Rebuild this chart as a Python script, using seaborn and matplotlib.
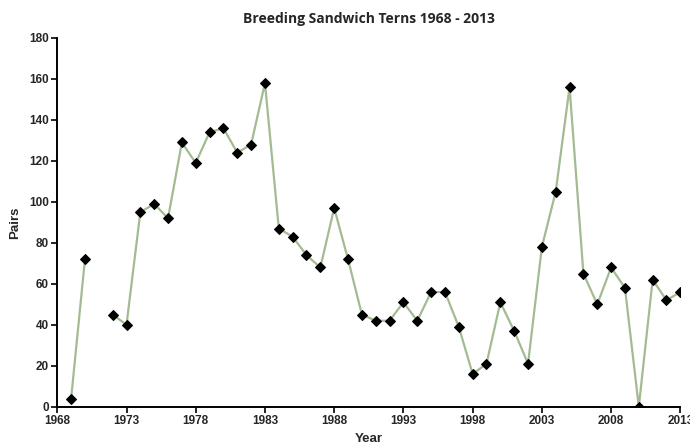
import numpy as np
import pandas as pd
import matplotlib
matplotlib.use("Agg")
import matplotlib.pyplot as plt
import seaborn as sns

years = list(range(1969, 2014))
pairs = [4, 72, np.nan, 45, 40, 95, 99, 92, 129, 119, 134, 136, 124, 128, 158,
         87, 83, 74, 68, 97, 72, 45, 42, 42, 51, 42, 56, 56, 39, 16, 21, 51,
         37, 21, 78, 105, 156, 65, 50, 68, 58, 0, 62, 52, 56]
x_ticks = list(range(1968, 2014, 5))
y_ticks = list(range(0, 181, 20))

df = pd.DataFrame({"Year": years, "Pairs": pairs})
# split the series where a year is missing so the line breaks there
df["segment"] = df["Pairs"].isna().cumsum()
df = df.dropna()

sns.set_style("white")
plt.rcParams["font.family"] = ["Liberation Sans Narrow", "Liberation Sans", "DejaVu Sans"]

fig, ax = plt.subplots(figsize=(6.9, 4.47), dpi=100)
fig.subplots_adjust(left=0.083, right=0.986, top=0.915, bottom=0.09)

sns.lineplot(data=df, x="Year", y="Pairs", units="segment", estimator=None,
             color="#a3bb93", linewidth=1.6, marker="D", markersize=5.5,
             markerfacecolor="black", markeredgecolor="black", ax=ax)

ax.set_xlim(1968, 2013)
ax.set_ylim(0, 180)
ax.set_xticks(x_ticks)
ax.set_yticks(y_ticks)
ax.tick_params(axis="both", direction="out", length=4, width=1.2, color="black",
               labelsize=8.5, pad=2, bottom=True, left=True)
for lab in ax.get_xticklabels() + ax.get_yticklabels():
    lab.set_fontweight("bold")
for side in ["top", "right"]:
    ax.spines[side].set_visible(False)
for side in ["left", "bottom"]:
    ax.spines[side].set_color("black")
    ax.spines[side].set_linewidth(1.4)

ax.set_xlabel("Year", fontsize=9.5, fontweight="bold", labelpad=4)
ax.set_ylabel("Pairs", fontsize=9.5, fontweight="bold", labelpad=6)
ax.set_title("Breeding Sandwich Terns 1968 - 2013", fontsize=10, fontweight="bold",
             family=["Open Sans", "DejaVu Sans"], pad=11)

fig.savefig("out.png", dpi=100)
